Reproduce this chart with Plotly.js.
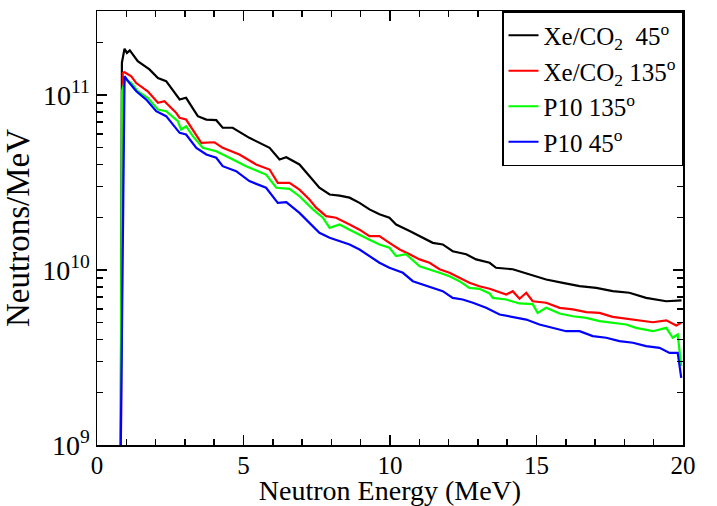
<!DOCTYPE html>
<html>
<head>
<meta charset="utf-8">
<script src="https://cdn.plot.ly/plotly-3.0.1.min.js"></script>
<style>html,body{margin:0;padding:0;background:#fff;}#chart{width:717px;height:506px;}</style>
</head>
<body>
<div id="chart"></div>
<script>
// Series names
const seriesNames = ['Xe/CO<sub>2</sub> \u00a045<sup>o</sup>', 'Xe/CO<sub>2</sub> 135<sup>o</sup>', 'P10 135<sup>o</sup>', 'P10 45<sup>o</sup>'];

// Xe/CO2 45 deg
const blackE = [0.80,0.85,0.94,1.02,1.12,1.39,1.79,2.08,2.36,2.82,3.04,3.44,3.73,4.07,4.29,4.63,5.20,5.55,5.89,6.23,6.46,6.91,7.25,7.59,7.94,8.28,8.62,8.96,9.30,9.64,9.98,10.21,10.67,11.01,11.46,11.80,12.14,12.60,12.94,13.40,13.62,14.19,14.76,15.33,15.90,16.47,17.04,17.60,18.17,18.74,19.43,19.88,19.95];
const blackV = [3e8,1.53e11,1.84e11,1.74e11,1.80e11,1.56e11,1.40e11,1.25e11,1.20e11,9.43e10,9.64e10,7.57e10,7.24e10,7.18e10,6.50e10,6.50e10,5.69e10,5.33e10,4.99e10,4.28e10,4.41e10,4.01e10,3.44e10,2.95e10,2.70e10,2.66e10,2.59e10,2.42e10,2.22e10,2.08e10,1.99e10,1.82e10,1.67e10,1.56e10,1.43e10,1.40e10,1.28e10,1.23e10,1.15e10,1.10e10,1.03e10,1.01e10,9.42e9,8.83e9,8.45e9,8.08e9,7.91e9,7.57e9,7.41e9,6.93e9,6.63e9,6.69e9,6.70e9];

// Xe/CO2 135 deg
const redE = [0.80,0.88,0.94,1.17,1.34,1.73,2.08,2.30,2.70,2.82,3.04,3.27,3.56,4.01,4.29,4.86,5.43,5.89,6.17,6.57,6.91,7.25,7.48,7.82,8.16,8.62,8.96,9.30,9.64,9.98,10.33,10.67,11.01,11.35,11.69,12.03,12.37,12.71,13.05,13.40,13.97,14.19,14.42,14.65,14.87,15.33,15.79,16.24,16.70,17.15,17.60,18.06,18.52,18.97,19.43,19.77,19.94];
const redV = [3e8,1.34e11,1.35e11,1.28e11,1.17e11,1.05e11,9.02e10,9.22e10,7.91e10,7.41e10,7.24e10,6.35e10,5.33e10,5.37e10,4.99e10,4.57e10,4.01e10,3.75e10,3.15e10,3.15e10,2.88e10,2.53e10,2.27e10,2.03e10,1.99e10,1.82e10,1.70e10,1.56e10,1.56e10,1.43e10,1.31e10,1.23e10,1.15e10,1.10e10,1.01e10,9.64e9,9.02e9,8.45e9,8.08e9,7.81e9,7.24e9,7.57e9,6.85e9,7.41e9,6.63e9,6.50e9,6.08e9,5.95e9,5.74e9,5.69e9,5.40e9,5.26e9,5.16e9,5.03e9,5.16e9,4.82e9,4.99e9];

// P10 135 deg
const greenE = [0.80,0.85,0.97,1.17,1.39,1.73,2.08,2.36,2.76,2.87,3.04,3.27,3.61,4.07,4.52,5.09,5.77,6.12,6.57,6.91,7.37,7.71,7.94,8.28,8.62,8.96,9.30,9.64,9.98,10.21,10.55,11.01,11.35,11.69,12.03,12.37,12.71,13.05,13.40,13.51,13.97,14.42,14.87,15.04,15.33,15.79,16.24,16.70,17.15,17.60,18.06,18.40,18.97,19.43,19.65,19.82,19.94];
const greenV = [3e8,1.05e11,1.23e11,1.17e11,1.05e11,9.64e10,8.26e10,8.08e10,7.08e10,6.35e10,6.63e10,5.82e10,4.99e10,4.77e10,4.38e10,3.92e10,3.51e10,2.95e10,2.91e10,2.64e10,2.22e10,1.99e10,1.74e10,1.82e10,1.70e10,1.60e10,1.49e10,1.40e10,1.34e10,1.20e10,1.23e10,1.05e10,1.01e10,9.64e9,9.22e9,8.63e9,7.91e9,7.81e9,7.34e9,6.93e9,6.78e9,6.44e9,6.38e9,5.69e9,6.08e9,5.64e9,5.44e9,5.33e9,5.10e9,4.99e9,4.88e9,4.67e9,4.47e9,4.67e9,4.10e9,4.28e9,2.82e9];

// P10 45 deg
const blueE = [0.78,0.94,1.11,1.34,1.68,2.02,2.36,2.82,3.04,3.39,3.73,4.07,4.29,4.75,5.20,5.77,6.17,6.46,6.91,7.25,7.59,7.94,8.28,8.62,8.96,9.30,9.64,9.98,10.44,10.78,11.12,11.46,11.80,12.14,12.48,12.83,13.28,13.74,14.19,14.65,15.10,15.56,16.01,16.47,16.92,17.38,17.83,18.29,18.74,19.20,19.54,19.82,19.94];
const blueV = [3e8,1.28e11,1.17e11,1.05e11,9.42e10,8.08e10,7.57e10,6.08e10,5.95e10,4.99e10,4.57e10,4.38e10,3.92e10,3.67e10,3.22e10,2.95e10,2.42e10,2.44e10,2.12e10,1.86e10,1.63e10,1.53e10,1.46e10,1.40e10,1.31e10,1.20e10,1.10e10,1.03e10,9.64e9,8.63e9,8.26e9,7.91e9,7.57e9,6.93e9,6.78e9,6.50e9,6.08e9,5.57e9,5.40e9,5.21e9,4.88e9,4.67e9,4.47e9,4.47e9,4.19e9,4.10e9,3.92e9,3.84e9,3.67e9,3.59e9,3.36e9,3.36e9,2.42e9];

const xTickVals = [0, 5, 10, 15, 20];
const yTickVals = [1e9, 1e10, 1e11];
const yTickText = ['10<sup>9</sup>', '10<sup>10</sup>', '10<sup>11</sup>'];
const yMinorVals = [2e9,3e9,4e9,5e9,6e9,7e9,8e9,9e9,2e10,3e10,4e10,5e10,6e10,7e10,8e10,9e10,2e11];

const colors = ['#000000', '#ff0000', '#00ff00', '#0000ff'];
const xs = [blackE, redE, greenE, blueE];
const ys = [blackV, redV, greenV, blueV];

const FONT = 'Liberation Serif';

const traces = xs.map((x, i) => ({
  type: 'scatter', mode: 'lines', x: x, y: ys[i], name: seriesNames[i],
  line: {color: colors[i], width: 2.2}
}));

const layout = {
  width: 717, height: 506,
  margin: {l: 97, r: 34, t: 11, b: 61, pad: 0},
  paper_bgcolor: '#fff', plot_bgcolor: '#fff',
  font: {family: FONT, color: '#000'},
  showlegend: true,
  legend: {
    x: 1, y: 1, xanchor: 'right', yanchor: 'top',
    bgcolor: '#fff', bordercolor: '#000', borderwidth: 1.5,
    font: {family: FONT, size: 25, color: '#000'},
    itemwidth: 30,
    tracegroupgap: 0
  },
  xaxis: {
    range: [0, 20], tickmode: 'array', tickvals: xTickVals,
    ticks: 'inside', ticklen: 10, tickwidth: 1.5, tickcolor: '#000',
    ticklabelstandoff: -3,
    minor: {dtick: 1, ticks: 'inside', ticklen: 6, tickwidth: 1.5, tickcolor: '#000', showgrid: false},
    showline: true, linecolor: '#000', linewidth: 1.5, mirror: 'allticks',
    showgrid: false, zeroline: false,
    tickfont: {family: FONT, size: 25, color: '#000'},
    title: {text: 'Neutron Energy (MeV)', font: {family: FONT, size: 28, color: '#000'}}
  },
  yaxis: {
    type: 'log', range: [9, 11.48], tickmode: 'array', tickvals: yTickVals,
    ticktext: yTickText,
    ticks: 'inside', ticklen: 10, tickwidth: 1.5, tickcolor: '#000',
    minor: {tickmode: 'array', tickvals: yMinorVals, ticks: 'inside', ticklen: 6, tickwidth: 1.5, tickcolor: '#000', showgrid: false},
    showline: true, linecolor: '#000', linewidth: 1.5, mirror: 'allticks',
    showgrid: false, zeroline: false,
    tickfont: {family: FONT, size: 28, color: '#000'},
    title: {text: 'Neutrons/MeV', font: {family: FONT, size: 33, color: '#000'}}
  }
};

Plotly.newPlot('chart', traces, layout, {displayModeBar: false, staticPlot: true});
</script>
</body>
</html>
